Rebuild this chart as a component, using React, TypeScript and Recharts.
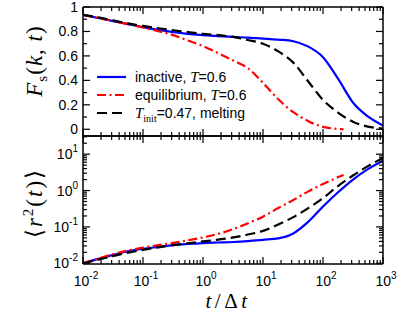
import React from 'react';
import { LineChart, Line, XAxis, YAxis } from 'recharts';

// time grid (t / Δt)
const times = [0.01, 0.018, 0.032, 0.056, 0.1, 0.18, 0.32, 0.56, 1, 1.8, 3.2, 5.6, 10, 18, 32, 56, 100, 180, 320, 560, 1000];
const eqTimes = [0.01, 0.018, 0.032, 0.056, 0.1, 0.18, 0.32, 0.56, 1, 1.8, 3.2, 5.6, 10, 18, 32, 56, 100, 180, 220];

// F_s(k,t)
const fsInactive = [0.935, 0.91, 0.885, 0.86, 0.835, 0.813, 0.795, 0.78, 0.77, 0.762, 0.755, 0.75, 0.742, 0.733, 0.72, 0.678, 0.59, 0.41, 0.215, 0.105, 0.03];
const fsMelting = [0.935, 0.915, 0.89, 0.866, 0.845, 0.826, 0.81, 0.795, 0.78, 0.77, 0.755, 0.73, 0.7, 0.637, 0.545, 0.395, 0.24, 0.135, 0.06, 0.022, 0.006];
const fsEquil = [0.935, 0.91, 0.885, 0.86, 0.833, 0.803, 0.77, 0.726, 0.68, 0.622, 0.562, 0.5, 0.38, 0.245, 0.14, 0.068, 0.02, 0.003, 0.0];

// <r^2(t)>
const msdInactive = [0.01, 0.0132, 0.017, 0.0214, 0.0251, 0.0282, 0.0316, 0.0339, 0.0359, 0.0372, 0.0385, 0.0407, 0.0442, 0.0484, 0.0661, 0.135, 0.363, 0.912, 2.04, 3.89, 6.61];
const msdMelting = [0.01, 0.0126, 0.0158, 0.0195, 0.0234, 0.0275, 0.0316, 0.0355, 0.0398, 0.0447, 0.0513, 0.0617, 0.0776, 0.117, 0.186, 0.324, 0.617, 1.35, 2.63, 4.68, 7.94];
const msdEquil = [0.01, 0.0135, 0.0178, 0.0224, 0.0269, 0.0316, 0.0363, 0.0427, 0.0513, 0.0646, 0.0871, 0.126, 0.191, 0.331, 0.55, 0.933, 1.51, 2.34, 2.69];

// axis ticks
const xTicks = [
  0.01, 0.02, 0.03, 0.04, 0.05, 0.06, 0.07, 0.08, 0.09,
  0.1, 0.2, 0.3, 0.4, 0.5, 0.6, 0.7, 0.8, 0.9,
  1, 2, 3, 4, 5, 6, 7, 8, 9,
  10, 20, 30, 40, 50, 60, 70, 80, 90,
  100, 200, 300, 400, 500, 600, 700, 800, 900, 1000,
];
const fsTicks = [0, 0.1, 0.2, 0.3, 0.4, 0.5, 0.6, 0.7, 0.8, 0.9, 1];
const fsLabels = [0, 0.2, 0.4, 0.6, 0.8, 1];
const msdTicks = [
  0.01, 0.02, 0.03, 0.04, 0.05, 0.06, 0.07, 0.08, 0.09,
  0.1, 0.2, 0.3, 0.4, 0.5, 0.6, 0.7, 0.8, 0.9,
  1, 2, 3, 4, 5, 6, 7, 8, 9,
  10, 20, 30,
];

const W = 409;
const H = 322;
const SANS = "'Liberation Sans', Arial, sans-serif";
const SERIF = "'Liberation Serif', 'DejaVu Serif', serif";

const blue = { stroke: '#0000ff', dash: undefined as string | undefined };
const red = { stroke: '#ff0000', dash: '9 3.5 2 3.5' };
const black = { stroke: '#000000', dash: '10 5' };

const toPoints = (ts: number[], vs: number[]) => ts.map((t, i) => ({ t, v: vs[i] }));

const isDecade = (v: number) => Math.abs(Math.log10(v) - Math.round(Math.log10(v))) < 1e-6;

function XTick(props: any) {
  const { x, y, payload, side, showLabel } = props;
  const v = payload.value;
  const major = isDecade(v);
  const len = major ? 7 : 4;
  const dir = side === 'top' ? 1 : -1;
  return (
    <g>
      <line x1={x} x2={x} y1={y} y2={y + dir * len} stroke="#000" strokeWidth={1.2} />
      {showLabel && major && (
        <text x={x + 3} y={y + 22} textAnchor="middle" fontFamily={SANS} fontSize={14} fill="#000">
          <tspan>10</tspan>
          <tspan dy={-7} fontSize={10}>{String(Math.round(Math.log10(v)))}</tspan>
        </text>
      )}
    </g>
  );
}

function FsTick(props: any) {
  const { x, y, payload, side } = props;
  const v = payload.value;
  const major = fsLabels.some((m) => Math.abs(m - v) < 1e-9);
  const len = major ? 7 : 4;
  const dir = side === 'right' ? -1 : 1;
  return (
    <g>
      <line x1={x} x2={x + dir * len} y1={y} y2={y} stroke="#000" strokeWidth={1.2} />
      {side === 'left' && major && (
        <text x={x - 5} y={y} dy="0.36em" textAnchor="end" fontFamily={SANS} fontSize={14} fill="#000">
          {String(v)}
        </text>
      )}
    </g>
  );
}

function MsdTick(props: any) {
  const { x, y, payload, side } = props;
  const v = payload.value;
  const major = isDecade(v);
  const len = major ? 7 : 4;
  const dir = side === 'right' ? -1 : 1;
  return (
    <g>
      <line x1={x} x2={x + dir * len} y1={y} y2={y} stroke="#000" strokeWidth={1.2} />
      {side === 'left' && major && (
        <text x={x - 5} y={y} dy="0.36em" textAnchor="end" fontFamily={SANS} fontSize={14} fill="#000">
          <tspan>10</tspan>
          <tspan dy={-7} fontSize={10}>{String(Math.round(Math.log10(v)))}</tspan>
        </text>
      )}
    </g>
  );
}

const frame = { stroke: '#000', strokeWidth: 1.5 };

function xAxes(showLabel: boolean) {
  return [
    <XAxis
      key="xb"
      xAxisId="b"
      type="number"
      dataKey="t"
      scale="log"
      domain={[0.01, 1000]}
      allowDataOverflow
      ticks={xTicks}
      interval={0}
      height={1}
      tickSize={0}
      tickMargin={0}
      tickLine={false}
      axisLine={frame}
      tick={(p: any) => <XTick {...p} side="bottom" showLabel={showLabel} />}
    />,
    <XAxis
      key="xt"
      xAxisId="t"
      orientation="top"
      type="number"
      dataKey="t"
      scale="log"
      domain={[0.01, 1000]}
      allowDataOverflow
      ticks={xTicks}
      interval={0}
      height={1}
      tickSize={0}
      tickMargin={0}
      tickLine={false}
      axisLine={frame}
      tick={(p: any) => <XTick {...p} side="top" showLabel={false} />}
    />,
  ];
}

function seriesLine(key: string, data: { t: number; v: number }[], style: typeof blue, name: string) {
  return (
    <Line
      key={key}
      xAxisId="b"
      yAxisId="l"
      data={data}
      dataKey="v"
      name={name}
      type="monotone"
      stroke={style.stroke}
      strokeWidth={2.2}
      strokeDasharray={style.dash}
      dot={false}
      activeDot={false}
      isAnimationActive={false}
    />
  );
}

function Legend() {
  const rows = [
    { style: blue, y: 77 },
    { style: red, y: 95 },
    { style: black, y: 113 },
  ];
  return (
    <g>
      {rows.map((r, i) => (
        <line key={i} x1={97} x2={126} y1={r.y} y2={r.y} stroke={r.style.stroke} strokeWidth={2.2} strokeDasharray={r.style.dash} />
      ))}
      <text x={135} y={82} fontFamily={SANS} fontSize={14} fill="#000">
        inactive, <tspan fontFamily={SERIF} fontStyle="italic" fontSize={15}>T</tspan>=0.6
      </text>
      <text x={135} y={100} fontFamily={SANS} fontSize={14} fill="#000">
        equilibrium, <tspan fontFamily={SERIF} fontStyle="italic" fontSize={15}>T</tspan>=0.6
      </text>
      <text x={135} y={118} fontFamily={SANS} fontSize={14} fill="#000">
        <tspan fontFamily={SERIF} fontStyle="italic" fontSize={15}>T</tspan>
        <tspan fontFamily={SERIF} fontSize={10} dy={4}>init</tspan>
        <tspan dy={-4}>=0.47, melting</tspan>
      </text>
    </g>
  );
}

function Titles() {
  return (
    <g fontFamily={SERIF} fill="#000">
      <text transform="rotate(-90 42 61)" x={42} y={61} textAnchor="middle" fontSize={23} letterSpacing={1}>
        <tspan fontStyle="italic">F</tspan>
        <tspan fontSize={15} dy={5}>s</tspan>
        <tspan dy={-5}>(</tspan>
        <tspan fontStyle="italic">k</tspan>
        <tspan>, </tspan>
        <tspan fontStyle="italic">t</tspan>
        <tspan>)</tspan>
      </text>
      <text transform="rotate(-90 42 203)" x={42} y={203} textAnchor="middle" fontSize={23} letterSpacing={2}>
        <tspan>{'\u27E8'}</tspan>
        <tspan fontStyle="italic">r</tspan>
        <tspan fontSize={15} dy={-9}>2</tspan>
        <tspan dy={9}>(</tspan>
        <tspan fontStyle="italic">t</tspan>
        <tspan>){'\u27E9'}</tspan>
      </text>
      <text x={228} y={308} textAnchor="middle" fontSize={21} letterSpacing={3.5}>
        <tspan fontStyle="italic">t</tspan>
        <tspan>/{'\u0394'}</tspan>
        <tspan fontStyle="italic">t</tspan>
      </text>
    </g>
  );
}

function fsYAxis(id: string, side: 'left' | 'right') {
  return (
    <YAxis
      yAxisId={id}
      orientation={side}
      type="number"
      domain={[-0.055, 1]}
      allowDataOverflow
      ticks={fsTicks}
      interval={0}
      width={1}
      tickSize={0}
      tickMargin={0}
      tickLine={false}
      axisLine={frame}
      tick={(p: any) => <FsTick {...p} side={side} />}
    />
  );
}

function msdYAxis(id: string, side: 'left' | 'right') {
  return (
    <YAxis
      yAxisId={id}
      orientation={side}
      type="number"
      scale="log"
      domain={[0.00955, 31.6]}
      allowDataOverflow
      ticks={msdTicks}
      interval={0}
      width={1}
      tickSize={0}
      tickMargin={0}
      tickLine={false}
      axisLine={frame}
      tick={(p: any) => <MsdTick {...p} side={side} />}
    />
  );
}

export default function App() {
  return (
    <div style={{ position: 'absolute', left: 0, top: 0, width: W, height: H, background: '#fff' }}>
      <div style={{ position: 'absolute', left: 0, top: 0 }}>
        <LineChart width={W} height={H} margin={{ top: 6, right: 25, bottom: 185, left: 82 }}>
          {xAxes(false)}
          {fsYAxis('l', 'left')}
          {fsYAxis('r', 'right')}
          {seriesLine('fi', toPoints(times, fsInactive), blue, 'inactive, T=0.6')}
          {seriesLine('fe', toPoints(eqTimes, fsEquil), red, 'equilibrium, T=0.6')}
          {seriesLine('fm', toPoints(times, fsMelting), black, 'T_init=0.47, melting')}
        </LineChart>
      </div>
      <div style={{ position: 'absolute', left: 0, top: 0 }}>
        <LineChart width={W} height={H} margin={{ top: 135, right: 25, bottom: 57, left: 82 }}>
          {xAxes(true)}
          {msdYAxis('l', 'left')}
          {msdYAxis('r', 'right')}
          {seriesLine('mi', toPoints(times, msdInactive), blue, 'inactive, T=0.6')}
          {seriesLine('me', toPoints(eqTimes, msdEquil), red, 'equilibrium, T=0.6')}
          {seriesLine('mm', toPoints(times, msdMelting), black, 'T_init=0.47, melting')}
        </LineChart>
      </div>
      <svg width={W} height={H} style={{ position: 'absolute', left: 0, top: 0, pointerEvents: 'none' }}>
        <Legend />
        <Titles />
      </svg>
    </div>
  );
}
